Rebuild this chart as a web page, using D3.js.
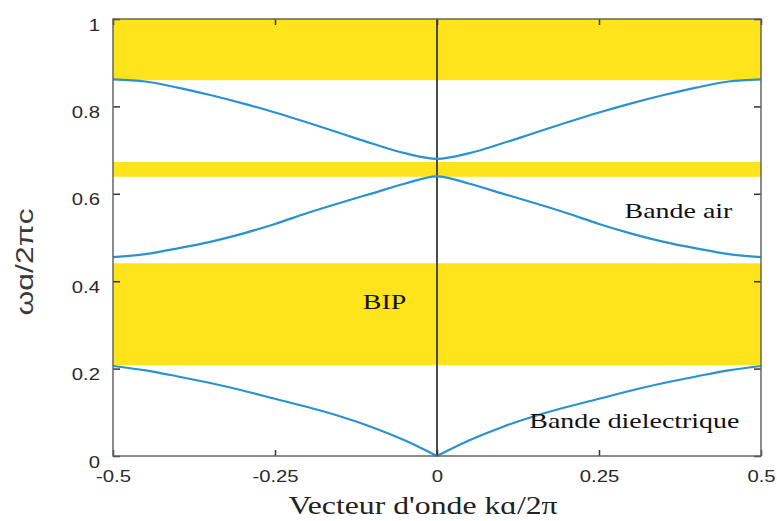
<!DOCTYPE html>
<html><head><meta charset="utf-8">
<script src="https://cdn.jsdelivr.net/npm/d3@7"></script>
<style>body{margin:0;background:#fff}svg{display:block}</style>
</head><body>
<svg id="c" width="777" height="521"></svg>
<script>
const kValues = [-0.5,-0.45,-0.4,-0.35,-0.3,-0.25,-0.2,-0.15,-0.1,-0.05,0,0.05,0.1,0.15,0.2,0.25,0.3,0.35,0.4,0.45,0.5];
const bandDielectric = [0.206,0.196,0.182,0.167,0.150,0.131,0.112,0.091,0.066,0.036,0.0,0.036,0.066,0.091,0.112,0.131,0.150,0.167,0.182,0.196,0.206];
const bandAir = [0.455,0.462,0.475,0.490,0.509,0.531,0.556,0.579,0.601,0.623,0.640,0.623,0.601,0.579,0.556,0.531,0.509,0.490,0.475,0.462,0.455];
const bandThird = [0.862,0.857,0.843,0.826,0.807,0.786,0.763,0.739,0.715,0.693,0.680,0.693,0.715,0.739,0.763,0.786,0.807,0.826,0.843,0.857,0.862];
const gapLow = [0.208,0.639,0.860];
const gapHigh = [0.441,0.673,1.0];
const xTicks = [-0.5,-0.25,0,0.25,0.5];
const xTickLabels = ["-0.5","-0.25","0","0.25","0.5"];
const yTicks = [0,0.2,0.4,0.6,0.8,1];
const yTickLabels = ["0","0.2","0.4","0.6","0.8","1"];
const annotations = [
  {text:"Bande air", k:0.2895, w:0.544},
  {text:"BIP", k:-0.1145, w:0.336},
  {text:"Bande dielectrique", k:0.1425, w:0.064}
];

const SX = 1.27; // horizontal stretch of the original raster text
const svg = d3.select("#c");
const x = d3.scaleLinear().domain([-0.5,0.5]).range([113,761]);
const y = d3.scaleLinear().domain([0,1]).range([456,19]);

// gaps
svg.append("g").selectAll("rect").data(gapLow).join("rect")
  .attr("x", x(-0.5)).attr("width", x(0.5)-x(-0.5))
  .attr("y", (d,i)=>y(gapHigh[i])).attr("height",(d,i)=>y(d)-y(gapHigh[i]))
  .attr("fill","#FFE31B");

// zero line
svg.append("line").attr("x1",x(0)).attr("x2",x(0)).attr("y1",y(1)).attr("y2",y(0))
  .attr("stroke","#4a4a4a").attr("stroke-width",2);

// curves
const line = d3.line().x(d=>x(d[0])).y(d=>y(d[1])).curve(d3.curveMonotoneX);
const pts = b => kValues.map((k,i)=>[k,b[i]]);
const drawPath = p => svg.append("path").datum(p).attr("d",line).attr("fill","none")
    .attr("stroke","#2b92d0").attr("stroke-width",2.2);
const dPts = pts(bandDielectric);
drawPath(dPts.slice(0,11));
drawPath(dPts.slice(10));
drawPath(pts(bandAir));
drawPath(pts(bandThird));

// axes (ticks inward)
const xb = d3.axisBottom(x).tickValues(xTicks).tickSize(-6).tickPadding(0).tickFormat((d,i)=>xTickLabels[i]);
const yl = d3.axisLeft(y).tickValues(yTicks).tickSize(-7).tickPadding(0).tickFormat((d,i)=>yTickLabels[i]);
const yr = d3.axisRight(y).tickValues(yTicks).tickSize(-7).tickFormat("");
const xt = d3.axisTop(x).tickValues(xTicks).tickSize(-6).tickFormat("");
function styleAxis(g){
  g.select(".domain").remove();
  g.selectAll(".tick line").attr("stroke","#333").attr("stroke-width",1.5);
  g.selectAll("text").attr("font-family","'Liberation Sans',Arial,sans-serif").attr("font-size",16).attr("fill","#2a2a2a");
}
svg.append("g").attr("transform",`translate(0,${y(0)})`).call(xb).call(styleAxis)
  .selectAll(".tick text").attr("x",0).attr("y",0).attr("dy",null)
  .attr("transform",`translate(0,26) scale(${SX},1)`);
svg.append("g").attr("transform",`translate(${x(-0.5)},0)`).call(yl).call(styleAxis)
  .selectAll(".tick text").attr("x",0).attr("dy",null).attr("y",0)
  .attr("transform",`translate(-13,11) scale(${SX},1)`);
svg.append("g").attr("transform",`translate(${x(0.5)},0)`).call(yr).call(styleAxis);
svg.append("g").attr("transform",`translate(0,${y(1)})`).call(xt).call(styleAxis);

// frame
svg.append("rect").attr("x",x(-0.5)).attr("y",y(1)).attr("width",x(0.5)-x(-0.5)).attr("height",y(0)-y(1))
  .attr("fill","none").attr("stroke","#666").attr("stroke-width",1.5);

// annotations
svg.append("g").selectAll("text").data(annotations).join("text")
  .attr("transform",d=>`translate(${x(d.k)},${y(d.w)}) scale(${SX},1)`)
  .attr("font-family","'Liberation Serif','Times New Roman',serif").attr("font-size",22).attr("fill","#111")
  .text(d=>d.text);

// axis titles
svg.append("text").attr("transform","translate(33,262) rotate(-90) scale(1.33,1)").attr("text-anchor","middle")
  .attr("font-family","'Liberation Sans',Arial,sans-serif").attr("font-size",24).attr("fill","#3a3a3a")
  .text("ωɑ/2πc");
svg.append("text").attr("transform",`translate(423,514) scale(${SX},1)`).attr("text-anchor","middle")
  .attr("font-family","'Liberation Serif','Times New Roman',serif").attr("font-size",25).attr("fill","#222")
  .text("Vecteur d'onde kɑ/2π");
</script>
</body></html>
